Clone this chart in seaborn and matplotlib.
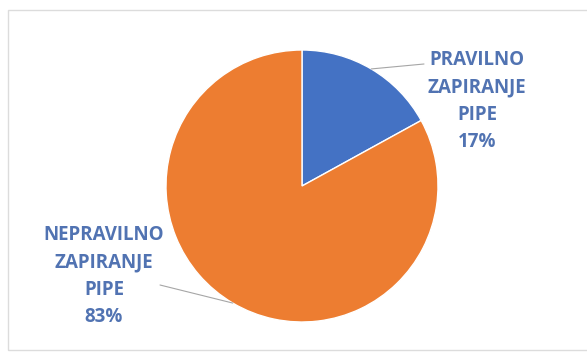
import numpy as np
import matplotlib
matplotlib.use("Agg")
import matplotlib.pyplot as plt
import matplotlib.patches as mpatches
import seaborn as sns

categories = ["PRAVILNO\nZAPIRANJE\nPIPE", "NEPRAVILNO\nZAPIRANJE\nPIPE"]
percent = [17, 83]
colors = ["#4472C4", "#ED7D31"]
label_color = "#5173B2"

sns.set_theme(style="white")
plt.rcParams["font.family"] = ["Open Sans", "DejaVu Sans"]

W, H = 587, 358
fig = plt.figure(figsize=(W / 100, H / 100), dpi=100)
fig.patch.set_facecolor("white")

# light chart-area border
fig.add_artist(mpatches.Rectangle((8 / W, 1 - 350 / H), 600 / W, 340 / H,
                                  transform=fig.transFigure, fill=False,
                                  edgecolor="#dcdcdc", linewidth=1.0))

cx, cy, r = 302, 186, 136
ax = fig.add_axes([(cx - r) / W, (H - cy - r) / H, 2 * r / W, 2 * r / H])
wedges, _ = ax.pie(percent, colors=colors, startangle=90, counterclock=False,
                   radius=1, wedgeprops=dict(edgecolor="white", linewidth=1.0))
ax.set_xlim(-1, 1)
ax.set_ylim(-1, 1)
ax.set_aspect("equal")
ax.axis("off")

def px(x, y):
    return ((x - cx) / r, (cy - y) / r)

label_pos = [px(477, 101), px(104, 276)]
line_end = [px(424, 64), px(160, 285)]

for w, cat, p, tpos, lend in zip(wedges, categories, percent, label_pos, line_end):
    mid = np.deg2rad((w.theta1 + w.theta2) / 2)
    edge = (np.cos(mid), np.sin(mid))
    ax.plot([edge[0], lend[0]], [edge[1], lend[1]], color="#a6a6a6",
            linewidth=0.8, clip_on=False)
    ax.text(tpos[0], tpos[1], f"{cat}\n{p}%", ha="center", va="center",
            color=label_color, fontsize=13.5, fontweight="bold",
            linespacing=1.5, clip_on=False)

fig.savefig("out.png", dpi=100, facecolor="white")
